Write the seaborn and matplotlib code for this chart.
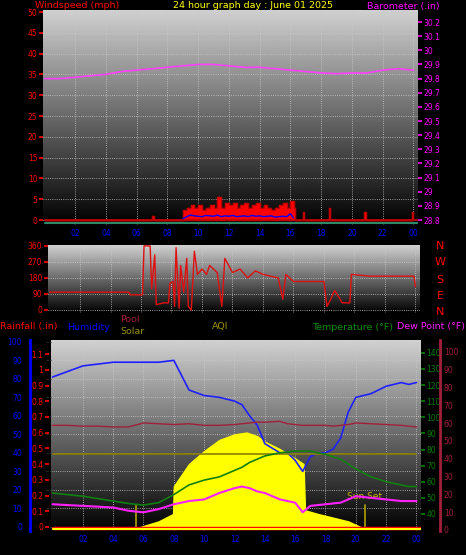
import numpy as np
import matplotlib
matplotlib.use("Agg")
import matplotlib.pyplot as plt
import seaborn as sns

# ---- data ----
hour_ticks = [2, 4, 6, 8, 10, 12, 14, 16, 18, 20, 22, 24]
hour_labels = ["02", "04", "06", "08", "10", "12", "14", "16", "18", "20", "22", "00"]

baro_t = [0, 1, 2, 3, 4, 5, 6, 7, 8, 9, 10, 11, 12, 13, 14, 15, 16, 17, 18, 19, 20, 21, 22, 23, 24]
baro_v = [29.80, 29.80, 29.81, 29.82, 29.83, 29.85, 29.86, 29.87, 29.88, 29.89, 29.90, 29.90, 29.89,
          29.88, 29.88, 29.87, 29.86, 29.85, 29.84, 29.835, 29.84, 29.84, 29.86, 29.87, 29.86]

wind_t = [0, 6.95, 7.0, 7.1, 8.9, 9.0, 9.25, 9.5, 9.75, 10.0, 10.25, 10.5, 10.75, 11.0, 11.25, 11.5,
          11.75, 12.0, 12.25, 12.5, 12.75, 13.0, 13.25, 13.5, 13.75, 14.0, 14.25, 14.5, 14.75, 15.0,
          15.25, 15.5, 15.75, 16.0, 16.2, 16.3, 16.7, 16.8, 16.9, 18.4, 18.5, 18.6, 20.7, 20.8, 20.9,
          23.8, 23.9, 24]
gust_v = [0, 0, 1, 0, 0, 2.5, 3, 3.5, 3, 3.5, 2.5, 3, 3.5, 3, 5.5, 3, 4, 3.5, 4, 3, 3.5, 4, 3, 3.5,
          4, 3, 3.5, 3, 2.5, 3, 3.5, 4, 3, 4.5, 3, 0, 0, 2, 0, 0, 3, 0, 0, 2, 0, 0, 2, 0]

avg_t = [9.0, 9.25, 9.5, 9.75, 10.0, 10.25, 10.5, 10.75, 11.0, 11.25, 11.5, 11.75, 12.0, 12.25,
         12.5, 12.75, 13.0, 13.25, 13.5, 13.75, 14.0, 14.25, 14.5, 14.75, 15.0, 15.25, 15.5, 15.75,
         16.0, 16.2]
avg_v = [0.3, 0.8, 1.2, 1.0, 0.9, 0.8, 1.1, 1.0, 0.9, 1.2, 0.8, 1.0, 0.9, 1.1, 0.8, 0.9, 1.0, 0.8,
         1.1, 0.9, 1.0, 0.8, 0.9, 1.0, 0.7, 0.8, 0.9, 0.8, 1.5, 0.5]

dir_t = [0, 5.2, 5.3, 6.1, 6.2, 6.6, 6.7, 6.9, 7.0, 7.5, 7.8, 7.9, 8.1, 8.2, 8.3, 8.5, 8.6, 8.8,
         9.0, 9.1, 9.3, 9.5, 9.7, 10.0, 10.3, 10.5, 11.0, 11.3, 11.5, 12.0, 12.5, 13.0, 13.5, 14.0,
         14.5, 15.0, 15.3, 15.5, 16.0, 18.0, 18.2, 18.5, 18.7, 19.2, 19.7, 19.8, 21.0, 23.9, 24.0]
dir_v = [100, 100, 85, 85, 360, 360, 120, 310, 30, 40, 40, 150, 160, 20, 350, 10, 250, 100, 290,
         20, 0, 330, 200, 230, 200, 250, 210, 20, 290, 210, 230, 180, 220, 200, 190, 180, 60, 200,
         160, 160, 20, 70, 110, 40, 40, 200, 190, 190, 130]

t_hours = [0, 1, 2, 3, 4, 5, 6, 7, 8, 9, 10, 11, 12, 12.5, 13, 13.5, 14, 15, 15.5, 16, 16.5, 17,
           17.5, 18, 18.5, 19, 19.5, 20, 21, 22, 23, 23.5, 24]
humidity = [81, 84, 87, 88, 89, 89, 89, 89, 90, 74, 71, 70, 68, 66, 60, 55, 45, 40, 40, 36, 30, 38,
            40, 40, 42, 48, 62, 70, 72, 76, 78, 77, 78]
temperature = [53, 52, 51, 49.5, 48, 46.5, 45.5, 47, 52, 58, 61, 63, 67, 69, 72, 74, 76, 78, 78.5,
               79, 79, 79, 78, 77, 75.5, 74, 71, 68, 63, 60, 58, 57, 57]
dew_point = [46, 45.5, 45, 44.5, 44, 42, 41, 43, 46, 48, 49, 53, 56, 57, 56, 54, 53, 49, 48, 47,
             41, 45, 45.5, 46, 46.5, 47, 49, 51, 50, 49, 48, 48, 48]
pool = [95, 95, 94.5, 94.5, 94, 94, 96.5, 96, 95.5, 96, 95, 95, 95.5, 96, 96.5, 97, 97, 97.5, 96,
        95.5, 95, 95, 95, 95, 94.5, 95, 95.5, 96.5, 96, 95.5, 95, 94.5, 94]
solar_line = [77] * len(t_hours)

solar_t = [5.8, 7.0, 7.95, 8.0, 9.0, 10.0, 11.0, 12.0, 12.8, 13.5, 14.0, 15.0, 16.0, 16.55, 16.65,
           17.5, 18.5, 19.5, 20.3]
solar_v = [0, 3, 7, 22, 34, 41, 47, 50, 51, 49, 46, 42, 37, 34, 9, 7, 5, 3, 0]

sunrise, sunset = 5.5, 20.6

# ---- figure ----
sns.set_style("dark")
plt.rcParams['font.family'] = ['DejaVu Sans']
W, H = 466, 555
fig = plt.figure(figsize=(W / 100, H / 100), dpi=100, facecolor="black")


def add_ax(x0, y0, x1, y1):
    return fig.add_axes([x0 / W, 1 - y1 / H, (x1 - x0) / W, (y1 - y0) / H])


grad = np.linspace(0.82, 0.0, 256).reshape(-1, 1)


def background(ax):
    ax.imshow(grad, cmap="gray", vmin=0, vmax=1, aspect="auto", extent=[0, 1, 0, 1],
              transform=ax.transAxes, zorder=0)
    ax.set_facecolor("black")
    for s in ax.spines.values():
        s.set_visible(False)
    ax.grid(True, color="#c8c8c8", ls=":", lw=0.6, zorder=1)


def style_ticks(ax, color, side="left"):
    ax.tick_params(axis="y", colors=color, labelsize=5.5, length=3, width=1.2, pad=1,
                   left=(side == "left"), right=(side == "right"),
                   labelleft=(side == "left"), labelright=(side == "right"))


def side_axis(x, ylim, ticks, color, labels=None, label_side="left", pad=2, length=0):
    a = add_ax(x, 340, x + 1, 531)
    a.set_ylim(*ylim)
    a.set_yticks(ticks)
    if labels is not None:
        a.set_yticklabels(labels)
    a.set_xticks([])
    a.set_facecolor("black")
    for s in a.spines.values():
        s.set_visible(False)
    a.tick_params(axis="y", colors=color, labelsize=5.5, length=length, width=1.2, pad=pad,
                  left=(label_side == "left"), labelleft=(label_side == "left"),
                  right=(label_side == "right"), labelright=(label_side == "right"))
    return a


# top panel
ax1 = add_ax(43, 10, 418, 225)
background(ax1)
ax1.set_xlim(-0.1, 24.3)
ax1.set_ylim(-1.2, 50.5)
ax1.set_yticks(range(0, 55, 5))
style_ticks(ax1, "red")
ax1.set_xticks(hour_ticks)
ax1.set_xticklabels(hour_labels)
ax1.tick_params(axis="x", colors="blue", labelsize=5.5, length=0, pad=3)
ax1.fill_between(wind_t, gust_v, color="red", step="post", zorder=3)
ax1.plot(wind_t, gust_v, color="#c00000", lw=0.8, drawstyle="steps-post", zorder=3)
ax1.plot(avg_t, avg_v, color="blue", lw=1, zorder=4)
ax1.plot([0, 24.3], [-0.6, -0.6], color="#2a8a6a", lw=1.5, zorder=4)
ax1.plot([0, 24.3], [0, 0], color="#c00000", lw=1.2, zorder=3)
ax1b = ax1.twinx()
ax1b.set_ylim(28.765, 30.285)
baro_ticks = np.round(np.arange(28.8, 30.25, 0.1), 1)
ax1b.set_yticks(baro_ticks)
ax1b.set_yticklabels([f"{v:g}" for v in baro_ticks])
style_ticks(ax1b, "#ff00ff", "right")
for s in ax1b.spines.values():
    s.set_visible(False)
sns.lineplot(x=baro_t, y=baro_v, ax=ax1b, color="#ff40ff", lw=1.2)

# wind direction panel
ax2 = add_ax(48, 245, 420, 313)
background(ax2)
ax2.set_xlim(-0.1, 24.3)
ax2.set_ylim(-17, 365)
ax2.set_yticks([0, 90, 180, 270, 360])
style_ticks(ax2, "red")
ax2.set_xticks(hour_ticks)
ax2.tick_params(axis="x", labelbottom=False, length=0)
sns.lineplot(x=dir_t, y=dir_v, ax=ax2, color="#e01010", lw=1, zorder=3)
for lab, y in zip(["N", "W", "S", "E", "N"], [246, 262, 280, 296, 312]):
    fig.text(440 / W, 1 - y / H, lab, color="red", fontsize=8, ha="center", va="center")

# bottom panel: humidity / solar scale carries the background
axh = add_ax(51, 340, 421, 531)
background(axh)
axh.set_xlim(-0.1, 24.3)
axh.set_ylim(-2.2, 101)
axh.set_yticks(range(0, 110, 10))
axh.set_xticks(hour_ticks)
axh.set_xticklabels(hour_labels)
axh.tick_params(axis="x", colors="blue", labelsize=5.5, length=0, pad=3)
axh.tick_params(axis="y", left=False, labelleft=False)
axh.fill_between(solar_t, solar_v, color="yellow", zorder=2)
sns.lineplot(x=t_hours, y=humidity, ax=axh, color="#2020ff", lw=1.2, zorder=5)
for hx in [sunrise, sunset]:
    axh.plot([hx, hx], [0, 12], color="#b0a000", lw=1.2, zorder=3)
axh.text(sunset, 14, "Sun Set", color="#c8b400", fontsize=6.5, ha="center", va="bottom", zorder=6)

# temperature scale on top
ax3 = axh.twinx()
ax3.set_ylim(29.4, 148)
ax3.set_yticks(range(40, 150, 10))
style_ticks(ax3, "green", "right")
for s in ax3.spines.values():
    s.set_visible(False)
ax3.grid(False)
sns.lineplot(x=t_hours, y=pool, ax=ax3, color="#a0203c", lw=1, zorder=4)
sns.lineplot(x=t_hours, y=solar_line, ax=ax3, color="#8a8000", lw=1.2, zorder=4)
sns.lineplot(x=t_hours, y=temperature, ax=ax3, color="#108010", lw=1.2, zorder=4)
sns.lineplot(x=t_hours, y=dew_point, ax=ax3, color="#ff20ff", lw=1.5, zorder=4)
ax3.plot([0, 24.3], [31.5, 31.5], color="red", lw=2.5, zorder=6)
ax3.plot([0, 24.3], [30.4, 30.4], color="yellow", lw=1.5, zorder=6)

# left axes: humidity (blue, outer) and rainfall (red, inner)
axl1 = side_axis(29, (-2.2, 101), range(0, 110, 10), "blue", pad=5)
axl1.spines["right"].set_visible(True)
axl1.spines["right"].set_color("blue")
axl1.spines["right"].set_linewidth(2)

rain_ticks = np.round(np.arange(0, 1.15, 0.1), 1)
side_axis(49, (-0.026, 1.19), rain_ticks, "red",
          labels=["0"] + [f"{v:g}" for v in rain_ticks[1:]], pad=1, length=3)

# outer right axis (dew point / pool)
axr = side_axis(440, (-0.6, 106.7), range(0, 110, 10), "#a0203c", label_side="right", pad=2)
axr.spines["left"].set_visible(True)
axr.spines["left"].set_color("#a0203c")
axr.spines["left"].set_linewidth(2)


# header texts
def htext(x, y, s, c, ha="left"):
    fig.text(x / W, 1 - y / H, s, color=c, fontsize=6.8, ha=ha, va="center")


htext(35, 6, "Windspeed (mph)", "red")
htext(253, 6, "24 hour graph day : June 01 2025", "yellow", "center")
htext(440, 6, "Barometer (.in)", "#ff00ff", "right")
htext(0, 327, "Rainfall (.in)", "red")
htext(67, 327, "Humidity", "blue")
htext(120, 320, "Pool", "#a0203c")
htext(120, 332, "Solar", "#9a9000")
htext(220, 327, "AQI", "#9a9000", "center")
htext(312, 327, "Temperature (°F)", "#109010")
htext(465, 327, "Dew Point (°F)", "#ff20ff", "right")

fig.savefig("out.png", dpi=100, facecolor="black")
